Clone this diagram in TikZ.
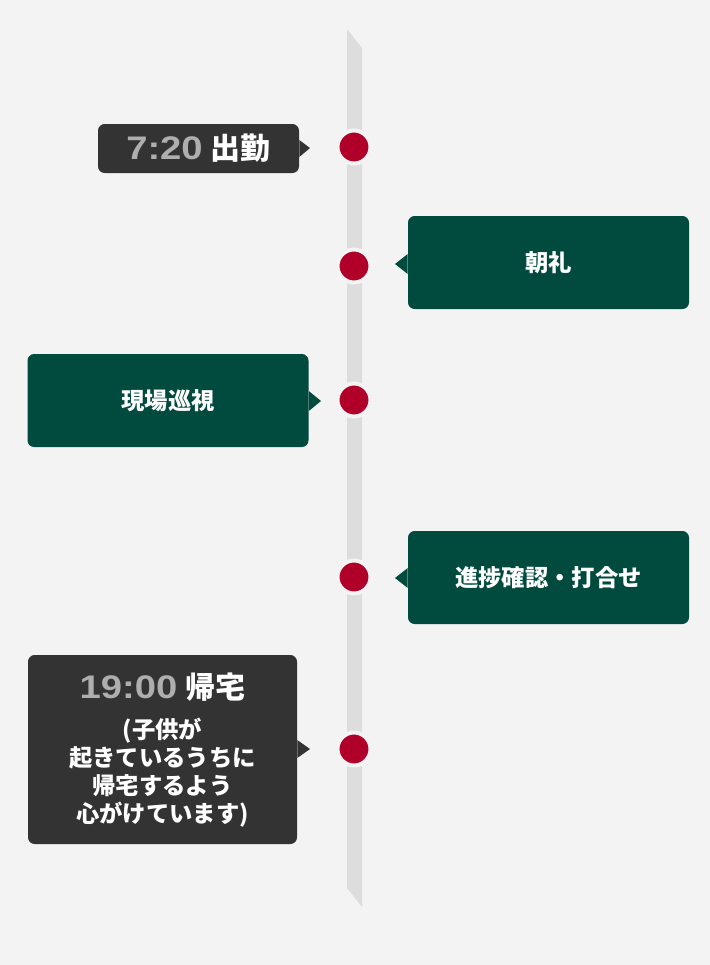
\documentclass[tikz,border=0pt]{standalone}
\usepackage{fontspec}
\setmainfont{Noto Sans CJK JP}
\newfontfamily\jp{Noto Sans CJK JP}
\newfontfamily\digits{Liberation Sans}[FakeStretch=1.17]
\definecolor{bgc}{HTML}{F3F3F3}
\definecolor{barc}{HTML}{DDDDDD}
\definecolor{dotc}{HTML}{B0002A}
\definecolor{greenc}{HTML}{004A3E}
\definecolor{darkc}{HTML}{333333}
\definecolor{timec}{HTML}{AEAEAE}
\tikzset{
  dotmark/.style={circle, fill=dotc, draw=bgc, line width=3pt, minimum size=33*0.75pt, inner sep=0pt},
  greenbox/.style={fill=greenc, rounded corners=5pt, minimum width=281*0.75pt, minimum height=93*0.75pt, inner sep=0pt, text=white, font=\jp\bfseries\fontsize{17.5pt}{20pt}\selectfont},
  darkbox/.style={fill=darkc, rounded corners=5pt, inner sep=0pt, text=white, align=center},
}
\begin{document}
\begin{tikzpicture}[x=0.75pt,y=-0.75pt]
\useasboundingbox (0,0) rectangle (710,965);
\fill[bgc] (0,0) rectangle (710,965);
% timeline bar
\fill[barc] (347,29) -- (362,48) -- (362,907) -- (347,888) -- cycle;
% dots
\node[dotmark] (d1) at (354,147) {};
\node[dotmark] (d2) at (354,266) {};
\node[dotmark] (d3) at (354,400) {};
\node[dotmark] (d4) at (354,577) {};
\node[dotmark] (d5) at (354,749) {};
% box 1
\node[darkbox, minimum width=201*0.75pt, minimum height=49*0.75pt] (b1) at (198.5,148.5)
  {{\digits\bfseries\fontsize{24.5pt}{26pt}\selectfont\color{timec}7:20}\hspace{6pt}{\jp\bfseries\fontsize{22.5pt}{26pt}\selectfont 出勤}};
\fill[darkc] (b1.east |- 0,140) -- (310,148) -- (b1.east |- 0,157) -- cycle;
% box 2
\node[greenbox] (b2) at (548.5,262.5) {朝礼};
\fill[greenc] (b2.west |- 0,254) -- (395,264) -- (b2.west |- 0,274) -- cycle;
% box 3
\node[greenbox] (b3) at (168,400.5) {現場巡視};
\fill[greenc] (b3.east |- 0,391) -- (321,401) -- (b3.east |- 0,411) -- cycle;
% box 4
\node[greenbox] (b4) at (548.5,577.5) {進捗確認・打合せ};
\fill[greenc] (b4.west |- 0,568) -- (395,578) -- (b4.west |- 0,588) -- cycle;
% box 5
\node[darkbox, minimum width=269*0.75pt, minimum height=189*0.75pt] (b5) at (162.5,749.5) {};
\fill[darkc] (b5.east |- 0,740) -- (310,749) -- (b5.east |- 0,758) -- cycle;
\node[text=white, inner sep=0pt] (t5) at (162.5,687)
  {{\digits\bfseries\fontsize{24.5pt}{26pt}\selectfont\color{timec}19:00}\hspace{6pt}{\jp\bfseries\fontsize{22.5pt}{26pt}\selectfont 帰宅}};
\node[text=white, inner sep=0pt, align=center, font=\jp\bfseries\fontsize{17.5pt}{21pt}\selectfont] (s5) at (162.5,773)
  {(子供が\\起きているうちに\\帰宅するよう\\心がけています)};
\end{tikzpicture}
\end{document}
